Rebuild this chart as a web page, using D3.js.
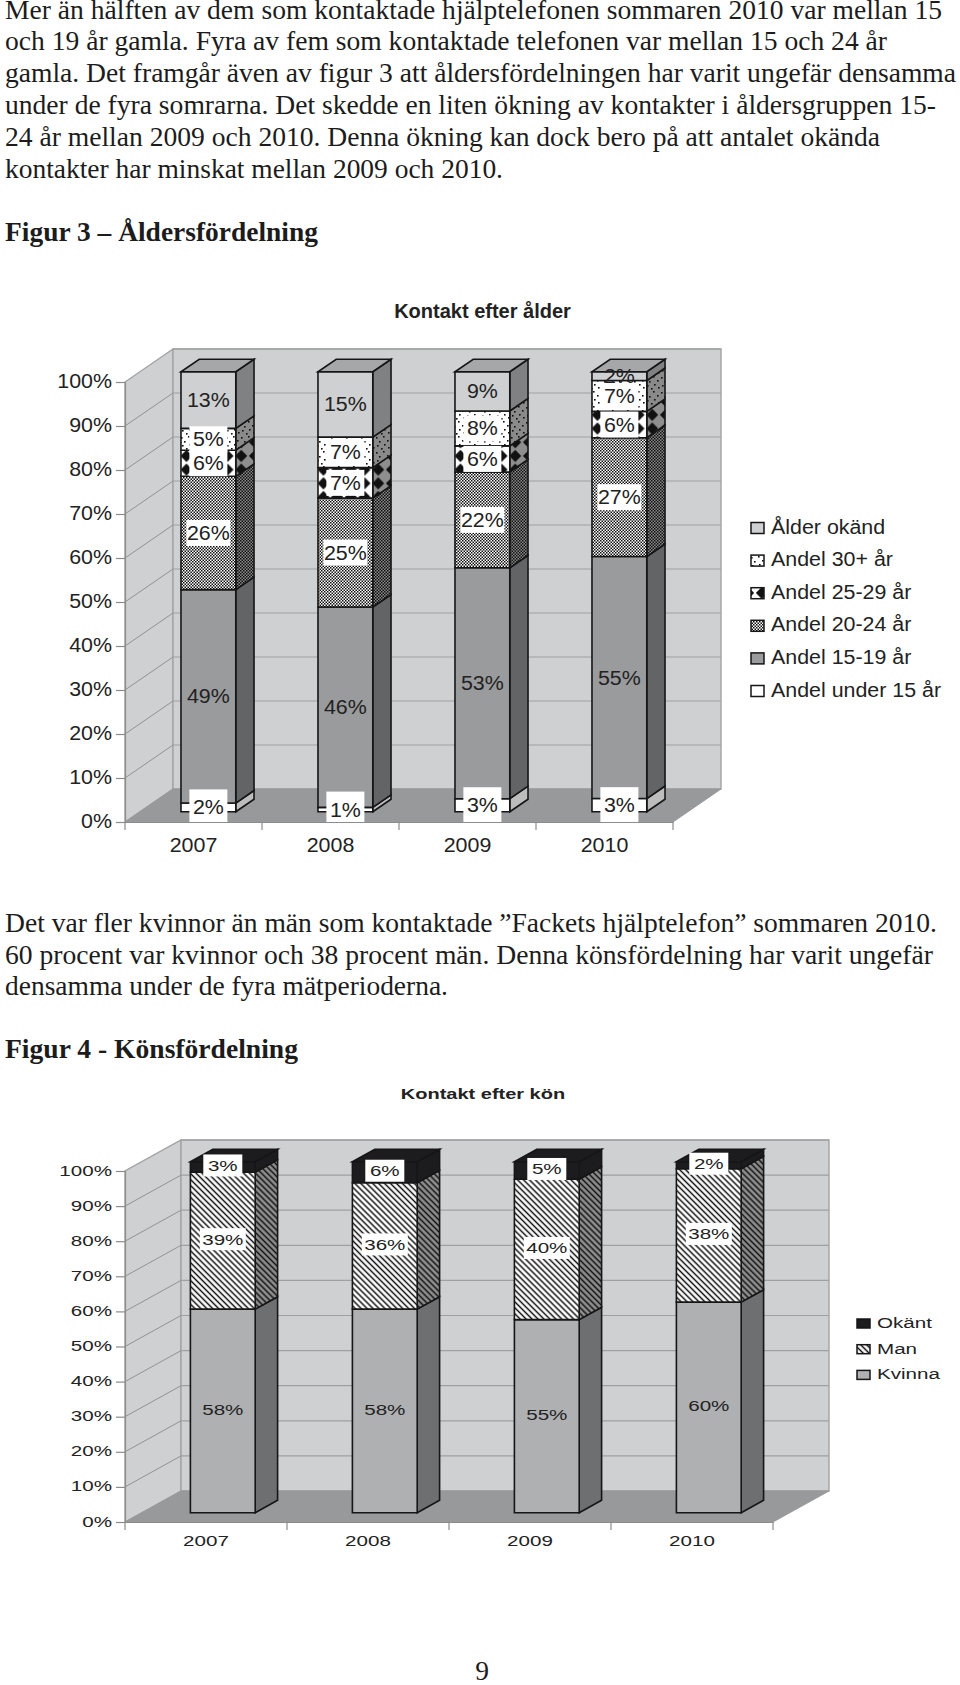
<!DOCTYPE html>
<html>
<head>
<meta charset="utf-8">
<script src="https://cdn.jsdelivr.net/npm/d3@7"></script>
<style>
  html, body { margin: 0; padding: 0; background: #fff; }
  svg { display: block; }
  .body { font-family: "Liberation Serif", serif; font-size: 27.5px; fill: #1c1c1c; }
  .head { font-family: "Liberation Serif", serif; font-size: 27.5px; font-weight: bold; fill: #1c1c1c; }
  .sans { font-family: "Liberation Sans", sans-serif; fill: #222; }
</style>
</head>
<body>
<svg id="page" width="960" height="1685"></svg>
<script>
const years = ["2007", "2008", "2009", "2010"];
const pctTicks = [0, 10, 20, 30, 40, 50, 60, 70, 80, 90, 100];

// figur 3, bottom to top
const ageNames = ["Andel under 15 år", "Andel 15-19 år", "Andel 20-24 år", "Andel 25-29 år", "Andel 30+ år", "Ålder okänd"];
const ageUnder15 = [2, 1, 3, 3];
const age15to19 = [49, 46, 53, 55];
const age20to24 = [26, 25, 22, 27];
const age25to29 = [6, 7, 6, 6];
const age30plus = [5, 7, 8, 7];
const ageUnknown = [13, 15, 9, 2];

// figur 4, bottom to top
const sexNames = ["Kvinna", "Man", "Okänt"];
const sexWomen = [58, 58, 55, 60];
const sexMen = [39, 36, 40, 38];
const sexUnknown = [3, 6, 5, 2];

const textTop = [
  "Mer än hälften av dem som kontaktade hjälptelefonen sommaren 2010 var mellan 15",
  "och 19 år gamla. Fyra av fem som kontaktade telefonen var mellan 15 och 24 år",
  "gamla. Det framgår även av figur 3 att åldersfördelningen har varit ungefär densamma",
  "under de fyra somrarna. Det skedde en liten ökning av kontakter i åldersgruppen 15-",
  "24 år mellan 2009 och 2010. Denna ökning kan dock bero på att antalet okända",
  "kontakter har minskat mellan 2009 och 2010."
];
const textMid = [
  "Det var fler kvinnor än män som kontaktade ”Fackets hjälptelefon” sommaren 2010.",
  "60 procent var kvinnor och 38 procent män. Denna könsfördelning har varit ungefär",
  "densamma under de fyra mätperioderna."
];
// line widths in the scanned page
const textTopWidth = [937, 882, 951, 931, 875, 498];
const textMidWidth = [932, 928, 443];

const svg = d3.select("#page");
const defs = svg.append("defs");

// running text
function paragraph(lines, widths, baselines) {
  svg.append("g").selectAll("text").data(lines).join("text")
    .attr("class", "body")
    .attr("x", 5)
    .attr("y", (d, i) => baselines(i))
    .attr("textLength", (d, i) => widths[i])
    .attr("lengthAdjust", "spacingAndGlyphs")
    .text(d => d);
}
paragraph(textTop, textTopWidth, i => 18.5 + i * 31.9);
paragraph(textMid, textMidWidth, i => 932 + i * 31.5);
svg.append("text").attr("class", "head").attr("x", 5).attr("y", 241)
  .attr("textLength", 313).attr("lengthAdjust", "spacingAndGlyphs").text("Figur 3 – Åldersfördelning");
svg.append("text").attr("class", "head").attr("x", 5).attr("y", 1058)
  .attr("textLength", 293).attr("lengthAdjust", "spacingAndGlyphs").text("Figur 4 - Könsfördelning");
svg.append("text").attr("class", "body").attr("x", 482).attr("y", 1680).attr("text-anchor", "middle").text("9");

// fill patterns
function tile(id, w, h, bg, draw, transform) {
  const p = defs.append("pattern").attr("id", id)
    .attr("patternUnits", "userSpaceOnUse")
    .attr("width", w).attr("height", h);
  if (transform) p.attr("patternTransform", transform);
  p.append("rect").attr("width", w).attr("height", h).attr("fill", bg);
  draw(p);
}
function checker(p) {
  p.append("rect").attr("width", 1.5).attr("height", 1.5).attr("fill", "#111");
  p.append("rect").attr("x", 1.5).attr("y", 1.5).attr("width", 1.5).attr("height", 1.5).attr("fill", "#111");
}
function dots(p) {
  [[1, 2], [8, 1], [4, 6], [12, 5], [2, 10], [9, 9], [6, 13], [13, 12]].forEach(d => {
    p.append("rect").attr("x", d[0]).attr("y", d[1]).attr("width", 1.6).attr("height", 1.6).attr("fill", "#111");
  });
}
function diamonds(p) {
  p.append("path").attr("d", "M6.85,0.85L12.85,6.85L6.85,12.85L0.85,6.85Z").attr("fill", "#111");
}
function hatch(p) {
  p.append("line").attr("x1", 2.1).attr("x2", 2.1).attr("y1", 0).attr("y2", 4.2)
    .attr("stroke", "#111").attr("stroke-width", 1.5);
}
tile("checkF", 3, 3, "#fff", checker);
tile("checkS", 3, 3, "#888", checker);
tile("dotsF", 15, 15, "#fff", dots);
tile("dotsS", 15, 15, "#8a8a8a", dots);
tile("diaF", 13.7, 13.7, "#fff", diamonds, "translate(1.5,-3)");
tile("diaS", 13.7, 13.7, "#8e8e8e", diamonds, "translate(1.5,-3)");
tile("hatchF", 4.2, 4.2, "#fff", hatch, "rotate(-45)");
tile("hatchS", 4.2, 4.2, "#8f8f8f", hatch, "rotate(-45)");

const poly = pts => pts.map(p => p.join(",")).join(" ");

function draw3dChart(cfg) {
  const g = svg.append("g");
  const nSeries = cfg.names.length;

  // one row per year, keyed by series name
  const rows = years.map((y, i) => {
    const row = { year: y };
    cfg.names.forEach((n, k) => { row[n] = cfg.values[k][i]; });
    return row;
  });
  const stacked = d3.stack().keys(cfg.names).offset(d3.stackOffsetExpand)(rows);

  const x = d3.scaleBand().domain(years).range([cfg.left, cfg.right]);
  const y = d3.scaleLinear().domain([0, 1]).range([cfg.bottom, cfg.top]);
  const project = (xv, v, d) => [xv + cfg.dx * d, y(v) + cfg.dy * d];

  // walls and floor
  g.append("polygon").attr("fill", "#cfd0d2").attr("stroke", "#a3a3a3").attr("stroke-width", 1.4)
    .attr("points", poly([project(cfg.left, 0, 0), project(cfg.left, 0, 1), project(cfg.left, 1, 1), project(cfg.left, 1, 0)]));
  g.append("polygon").attr("fill", "#cfd0d2").attr("stroke", "#a3a3a3").attr("stroke-width", 1.4)
    .attr("points", poly([project(cfg.left, 0, 1), project(cfg.right, 0, 1), project(cfg.right, 1, 1), project(cfg.left, 1, 1)]));
  g.append("polygon").attr("fill", "#98999b").attr("stroke", "#98999b")
    .attr("points", poly([project(cfg.left, 0, 0), project(cfg.right, 0, 0), project(cfg.right, 0, 1), project(cfg.left, 0, 1)]));

  const grid = pctTicks.filter(t => t > 0).map(t => t / 100);
  g.append("g").selectAll("line").data(grid).join("line")
    .attr("x1", d => project(cfg.left, d, 1)[0]).attr("y1", d => project(cfg.left, d, 1)[1])
    .attr("x2", d => project(cfg.right, d, 1)[0]).attr("y2", d => project(cfg.right, d, 1)[1])
    .attr("stroke", "#a0a0a0").attr("stroke-width", 1.2);
  g.append("g").selectAll("line").data(grid.filter(d => d < 1)).join("line")
    .attr("x1", d => project(cfg.left, d, 0)[0]).attr("y1", d => project(cfg.left, d, 0)[1])
    .attr("x2", d => project(cfg.left, d, 1)[0]).attr("y2", d => project(cfg.left, d, 1)[1])
    .attr("stroke", "#929292").attr("stroke-width", 1);

  // axes
  const sx = cfg.stretch;
  const yAxis = d3.axisLeft(y).tickValues(pctTicks.map(t => t / 100)).tickFormat(d3.format(".0%")).tickSize(9).tickPadding(0);
  const yG = g.append("g").attr("transform", `translate(${cfg.left},0)`).call(yAxis);
  yG.select(".domain").attr("stroke", "#8c8c8c").attr("stroke-width", 1.2);
  yG.selectAll(".tick line").attr("stroke", "#8c8c8c").attr("stroke-width", 1.2);
  yG.selectAll(".tick text")
    .attr("class", "sans").attr("dy", null).attr("font-size", cfg.fontSize)
    .attr("x", -13 / sx).attr("y", cfg.tickBase)
    .attr("transform", `scale(${sx},1)`);

  const xAxis = d3.axisBottom(x).tickSize(0).tickPadding(0);
  const xG = g.append("g").attr("transform", `translate(0,${cfg.bottom})`).call(xAxis);
  xG.select(".domain").attr("stroke", "#8c8c8c").attr("stroke-width", 1.2);
  xG.selectAll(".tick text")
    .attr("class", "sans").attr("dy", null).attr("font-size", cfg.fontSize)
    .attr("x", 0).attr("y", cfg.yearBase)
    .attr("transform", `scale(${sx},1)`);
  const edges = years.map(d => x(d)).concat([cfg.right]);
  xG.selectAll(".edge").data(edges).join("line").attr("class", "edge")
    .attr("x1", d => d).attr("x2", d => d).attr("y1", 0).attr("y2", 8)
    .attr("stroke", "#8c8c8c").attr("stroke-width", 1.2);

  // bars, left to right
  const barL = d => x(d) + x.bandwidth() * 0.3;
  const barR = d => x(d) + x.bandwidth() * 0.7;
  const d0 = cfg.d0, d1 = cfg.d1;
  const edge = { stroke: "#161616", width: 1.6 };

  years.forEach((yr, i) => {
    const bar = g.append("g");
    stacked.forEach((s, k) => {
      const lo = s[i][0], hi = s[i][1];
      bar.append("polygon")
        .attr("fill", cfg.sideFill[k]).attr("stroke", edge.stroke).attr("stroke-width", edge.width)
        .attr("points", poly([project(barR(yr), lo, d0), project(barR(yr), lo, d1), project(barR(yr), hi, d1), project(barR(yr), hi, d0)]));
      bar.append("polygon")
        .attr("fill", cfg.frontFill[k]).attr("stroke", edge.stroke).attr("stroke-width", edge.width)
        .attr("points", poly([project(barL(yr), lo, d0), project(barR(yr), lo, d0), project(barR(yr), hi, d0), project(barL(yr), hi, d0)]));
      if (k === nSeries - 1) {
        bar.append("polygon")
          .attr("fill", cfg.topFill).attr("stroke", edge.stroke).attr("stroke-width", edge.width)
          .attr("points", poly([project(barL(yr), 1, d0), project(barR(yr), 1, d0), project(barR(yr), 1, d1), project(barL(yr), 1, d1)]));
      }
    });
  });

  // data labels sit on the middle of the front face
  stacked.forEach((s, k) => {
    s.forEach((seg, i) => {
      const yr = years[i];
      const c = project((barL(yr) + barR(yr)) / 2, (seg[0] + seg[1]) / 2, d0);
      c[1] += cfg.labelShift;
      const val = cfg.values[k][i];
      const boxW = val < 10 ? cfg.boxSmall : cfg.boxBig;
      if (cfg.boxed[k]) {
        const tall = cfg.tallBottom && k === 0;
        g.append("rect").attr("fill", "#fff")
          .attr("x", c[0] - boxW / 2)
          .attr("y", c[1] - (tall ? 18 : cfg.boxH / 2))
          .attr("width", boxW)
          .attr("height", tall ? y(0) - c[1] + 18 : cfg.boxH);
      }
      g.append("text").attr("class", "sans")
        .attr("font-size", cfg.fontSize)
        .attr("text-anchor", "middle")
        .attr("dy", "0.35em")
        .attr("transform", `translate(${c[0]},${c[1]}) scale(${sx},1)`)
        .text(val + "%");
    });
  });

  // title
  g.append("text").attr("class", "sans")
    .attr("font-size", cfg.titleSize).attr("font-weight", "bold").attr("text-anchor", "middle")
    .attr("transform", `translate(${cfg.titleX},${cfg.titleY}) scale(${cfg.titleStretch},1)`)
    .text(cfg.title);

  // legend, top series first
  const legend = g.append("g");
  cfg.names.slice().reverse().forEach((n, j) => {
    const k = nSeries - 1 - j;
    const by = cfg.legendY + j * cfg.legendStep;
    legend.append("rect")
      .attr("x", cfg.legendX).attr("y", by - cfg.swatchH).attr("width", 13).attr("height", cfg.swatchH)
      .attr("fill", cfg.frontFill[k]).attr("stroke", "#161616").attr("stroke-width", 1.5);
    legend.append("text").attr("class", "sans")
      .attr("font-size", cfg.fontSize)
      .attr("transform", `translate(${cfg.legendX + 20},${by}) scale(${sx},1)`)
      .text(n);
  });
}

draw3dChart({
  title: "Kontakt efter ålder", titleSize: 20, titleStretch: 1, titleX: 482.5, titleY: 318,
  names: ageNames,
  values: [ageUnder15, age15to19, age20to24, age25to29, age30plus, ageUnknown],
  left: 125, right: 673, top: 382, bottom: 822, dx: 48, dy: -33, d0: 0.31, d1: 0.69,
  fontSize: 20, stretch: 1.07, tickBase: 5.5, yearBase: 30,
  frontFill: ["#fff", "#9a9b9d", "url(#checkF)", "url(#diaF)", "url(#dotsF)", "#cfd0d2"],
  sideFill: ["#bdbdbd", "#636466", "url(#checkS)", "url(#diaS)", "url(#dotsS)", "#808182"],
  topFill: "#a6a7a8",
  boxed: [true, false, true, true, true, false],
  tallBottom: true, boxH: 26, boxSmall: 38, boxBig: 44, labelShift: 0,
  legendX: 751, legendY: 533.5, legendStep: 32.6, swatchH: 11
});

draw3dChart({
  title: "Kontakt efter kön", titleSize: 15.5, titleStretch: 1.29, titleX: 483, titleY: 1099,
  names: sexNames,
  values: [sexWomen, sexMen, sexUnknown],
  left: 125, right: 773, top: 1171, bottom: 1522, dx: 56, dy: -31, d0: 0.3, d1: 0.7,
  fontSize: 15.5, stretch: 1.33, tickBase: 4, yearBase: 24,
  frontFill: ["#afb0b2", "url(#hatchF)", "#1c1b1d"],
  sideFill: ["#6e6f71", "url(#hatchS)", "#1c1b1d"],
  topFill: "#1c1b1d",
  boxed: [false, true, true],
  tallBottom: false, boxH: 22, boxSmall: 39, boxBig: 46, labelShift: -1.5,
  legendX: 857, legendY: 1328, legendStep: 25.7, swatchH: 9
});
</script>
</body>
</html>
